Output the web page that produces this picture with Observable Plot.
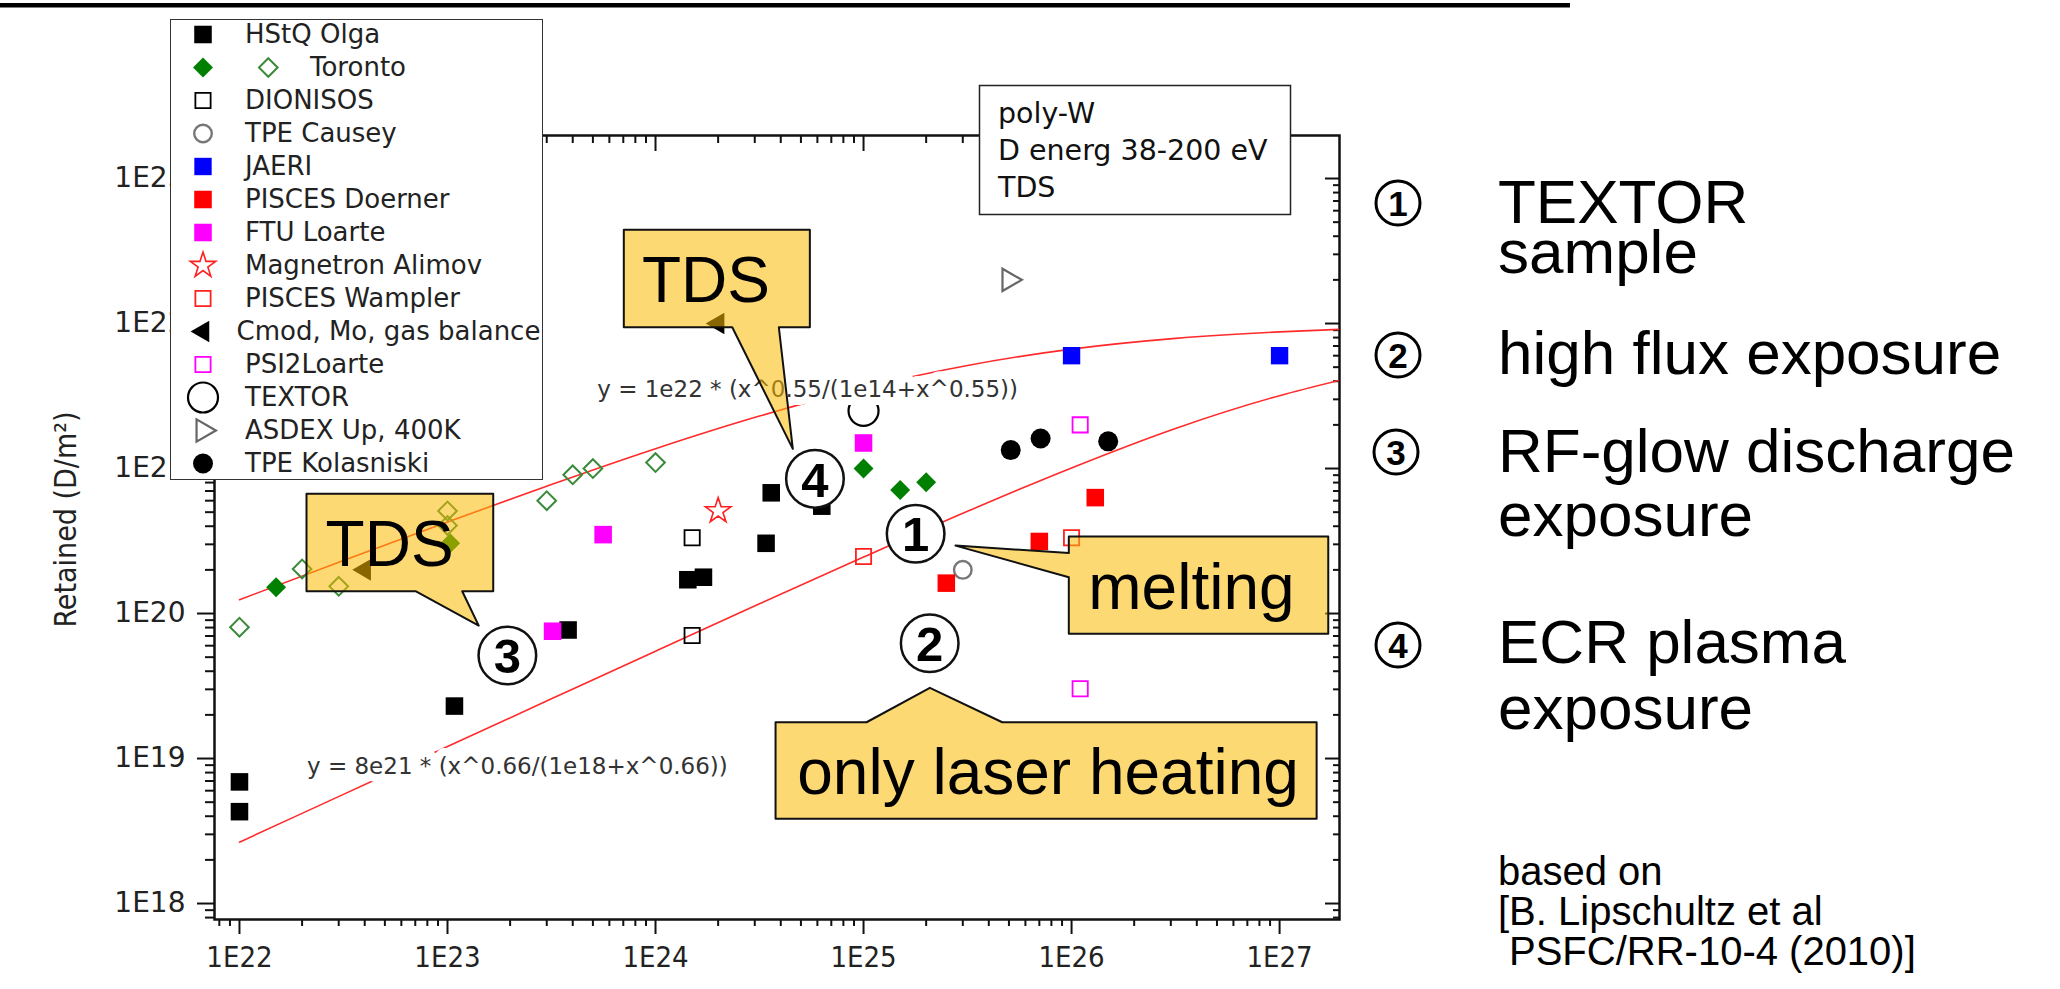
<!DOCTYPE html>
<html><head><meta charset="utf-8"><title>Retained D in poly-W</title>
<script src="https://cdn.jsdelivr.net/npm/d3@7"></script>
<script src="https://cdn.jsdelivr.net/npm/@observablehq/plot@0.6"></script>
<style>
html,body{margin:0;padding:0;background:#fff;overflow:hidden;}
#page{position:relative;width:2060px;height:989px;background:#fff;}
#chart{position:absolute;left:0;top:0;}
#legend{position:absolute;left:170px;top:19px;width:373px;height:461px;box-sizing:border-box;border:1.5px solid #333;background:#fff;}
#notes{position:absolute;left:0;top:0;pointer-events:none;}
</style></head>
<body><div id="page"><div id="chart"></div><div id="legend"></div></div>
<script>
// ---------- data ----------
const hstqOlga = [[1e22,6.9e18],[1e22,4.3e18],[1.08e23,2.3e19],[3.8e23,7.7e19],[1.43e24,1.71e20],[1.7e24,1.78e20],[3.4e24,3.05e20],[3.6e24,6.8e20],[6.3e24,5.5e20]];
const torontoFilled = [[1.5e22,1.52e20],[1.03e23,3.05e20],[1e25,1e21],[1.5e25,7.1e20],[2e25,8.05e20]];
const torontoOpen = [[1e22,8.05e19],[2e22,2.03e20],[3e22,1.54e20],[1e23,5.1e20],[1e23,4.05e20],[3e23,6e20],[4e23,9.05e20],[5e23,1e21],[1e24,1.1e21]];
const dionisos = [[1.5e24,3.33e20],[1.5e24,7.05e19]];
const tpeCausey = [[3e25,2e20]];
const jaeri = [[1e26,6e21],[1e27,6e21]];
const piscesDoerner = [[2.5e25,1.62e20],[7e25,3.14e20],[1.3e26,6.3e20]];
const ftuLoarte = [[1e25,1.5e21],[5.6e23,3.5e20],[3.2e23,7.55e19]];
const magnetronAlimov = [[2e24,5.1e20]];
const piscesWampler = [[1e25,2.47e20],[1e26,3.33e20]];
const cmod = [[4e22,2e20],[2e24,1e22]];
const psi2Loarte = [[1.1e26,2e21],[1.1e26,3.03e19]];
const textor = [[1e25,2.5e21]];
const asdex = [[5e25,2e22]];
const tpeKolasniski = [[5.1e25,1.34e21],[7.1e25,1.61e21],[1.5e26,1.54e21]];

// fit curves, values
const fitX = [1e22,3.16e22,1e23,3.16e23,1e24,3.16e24,1e25,3.16e25,1e26,3.16e26,1e27,1.94e27];
const fitUpperY = [1.245e20,2.32e20,4.28e20,7.76e20,1.37e21,2.30e21,3.60e21,5.14e21,6.66e21,7.90e21,8.76e21,9.11e21];
const fitLowerY = [2.65e18,5.66e18,1.21e19,2.58e19,5.50e19,1.166e20,2.45e20,5.07e20,1.01e21,1.89e21,3.18e21,4.05e21];
const fitLabels = [
  {t:"y = 1e22 * (x^0.55/(1e14+x^0.55))", x:5.245e23, y:3.51e21},
  {t:"y = 8e21 * (x^0.66/(1e18+x^0.66))", x:2.111e22, y:8.73e18}
];

// axis ticks
const xDomain = [7.585e21, 1.941e27];
const yDomain = [7.76e17, 1.98e23];
const xMajor = [1e22,1e23,1e24,1e25,1e26,1e27];
const xTickLabels = ["1E22","1E23","1E24","1E25","1E26","1E27"];
const yMajor = [1e18,1e19,1e20,1e21,1e22,1e23];
const yTickLabels = ["1E18","1E19","1E20","1E21","1E22","1E23"];
const minorSteps = [2,3,4,5,6,7,8,9];
const yTitle = "Retained (D/m²)";

// annotations (data coordinates)
const calloutTdsLeft = [[2.10e22,6.69e20],[1.659e23,6.69e20],[1.659e23,1.425e20],[1.177e23,1.425e20],[1.413e23,8.26e19],[7.02e22,1.425e20],[2.10e22,1.425e20]];
const calloutTdsTop = [[7.04e23,4.43e22],[5.52e24,4.43e22],[5.52e24,9.43e21],[3.915e24,9.43e21],[4.571e24,1.367e21],[2.338e24,9.43e21],[7.04e23,9.43e21]];
const calloutMelting = [[9.70e25,3.40e20],[1.714e27,3.40e20],[1.714e27,7.24e19],[9.70e25,7.24e19],[9.70e25,1.78e20],[2.767e25,2.94e20],[9.70e25,2.61e20]];
const calloutLaser = [[3.776e24,1.779e19],[1.034e25,1.779e19],[2.084e25,3.073e19],[4.644e25,1.779e19],[1.507e27,1.779e19],[1.507e27,3.838e18],[3.776e24,3.838e18]];
const calloutTextsCentered = [{t:"TDS",x:5.27e22,y:2.14e20},{t:"TDS",x:1.749e24,y:1.403e22},{t:"melting",x:3.77e26,y:1.077e20}];
const calloutTextsStart = [{t:"only laser heating",x:4.8e24,y:5.71e18}];
const numberMarks = [{n:"1",x:1.78e25,y:3.55e20},{n:"2",x:2.08e25,y:6.24e19},{n:"3",x:1.94e23,y:5.13e19},{n:"4",x:5.84e24,y:8.49e20}];

const infoLines = ["poly-W","D energ 38-200 eV","TDS"];
const rightNotes = [
  {t:"TEXTOR",x:1498,y:223,s:62},{t:"sample",x:1498,y:273,s:62},
  {t:"high flux exposure",x:1498,y:374,s:62},
  {t:"RF-glow discharge",x:1498,y:472,s:62},{t:"exposure",x:1498,y:536,s:62},
  {t:"ECR plasma",x:1498,y:663,s:62},{t:"exposure",x:1498,y:729,s:62},
  {t:"based on",x:1498,y:885,s:40},{t:"[B. Lipschultz et al",x:1498,y:925,s:40},{t:"PSFC/RR-10-4 (2010)]",x:1509,y:965,s:40}
];
const rightMarkers = [{n:"1",x:1398,y:203},{n:"2",x:1398,y:355},{n:"3",x:1396,y:452},{n:"4",x:1398,y:645}];

// ---------- styles ----------
const dejavu = "'DejaVu Sans', sans-serif";
const arial = "'Liberation Sans', Arial, sans-serif";
const narrow = "'Liberation Sans Narrow', 'Arial Narrow', 'DejaVu Sans Condensed', 'Roboto Condensed', sans-serif";
const green = "#008000";
const series = [
  {label:"HStQ Olga", data:hstqOlga, symbol:"square", r:9.9, fill:"black", stroke:"none", sw:0},
  {label:"Toronto", data:torontoFilled, symbol:"diamond2", r:9, fill:green, stroke:"none", sw:0},
  {label:null, data:torontoOpen, symbol:"diamond2", r:8.4, fill:"none", stroke:"#3a8a3a", sw:2},
  {label:"DIONISOS", data:dionisos, symbol:"square", r:8.6, fill:"none", stroke:"black", sw:1.8},
  {label:"TPE Causey", data:tpeCausey, symbol:"circle", r:8.8, fill:"none", stroke:"#777", sw:2.4},
  {label:"JAERI", data:jaeri, symbol:"square", r:9.8, fill:"#0000ff", stroke:"none", sw:0},
  {label:"PISCES Doerner", data:piscesDoerner, symbol:"square", r:9.9, fill:"#ff0000", stroke:"none", sw:0},
  {label:"FTU Loarte", data:ftuLoarte, symbol:"square", r:9.9, fill:"#ff00ff", stroke:"none", sw:0},
  {label:"Magnetron Alimov", data:magnetronAlimov, symbol:"star", r:8, fill:"none", stroke:"#ff2020", sw:1.6},
  {label:"PISCES Wampler", data:piscesWampler, symbol:"square", r:8.6, fill:"none", stroke:"#ff2020", sw:1.8},
  {label:"Cmod, Mo, gas balance", data:cmod, symbol:"triangle", r:8, fill:"black", stroke:"none", sw:0, rotate:-90},
  {label:"PSI2Loarte", data:psi2Loarte, symbol:"square", r:8.6, fill:"none", stroke:"#ff00ff", sw:1.8},
  {label:"TEXTOR", data:textor, symbol:"circle", r:15, fill:"none", stroke:"black", sw:2.2},
  {label:"ASDEX Up, 400K", data:asdex, symbol:"triangle", r:8.3, fill:"none", stroke:"#666", sw:2.2, rotate:90},
  {label:"TPE Kolasniski", data:tpeKolasniski, symbol:"circle", r:10, fill:"black", stroke:"none", sw:0}
];

const inDomain = (v, d) => v >= d[0] && v <= d[1];
const minorOf = (d, e0, e1) => d3.range(e0, e1 + 1).flatMap(e => minorSteps.map(m => m * 10 ** e)).filter(v => inDomain(v, d));
const xMinor = minorOf(xDomain, 21, 27);
const yMinor = minorOf(yDomain, 17, 23);

const W = 2060, H = 989;
const callFill = "#FBBA00";
const fx = d => d[0], fy = d => d[1];

const chart = Plot.plot({
  width: W, height: H,
  marginLeft: 214, marginRight: W - 1339, marginTop: 135, marginBottom: H - 919,
  x: {type: "log", domain: xDomain, axis: null},
  y: {type: "log", domain: yDomain, axis: null},
  style: {background: "white", color: "#111", fontFamily: dejavu, overflow: "visible"},
  marks: [
    // axes
    Plot.axisX(xMajor, {anchor: "bottom", tickSize: 15, tickPadding: 12, strokeWidth: 2, tickFormat: d => xTickLabels[xMajor.indexOf(d)], fontSize: 29, fontFamily: narrow, fill: "#222", label: null}),
    Plot.axisX(xMinor, {anchor: "bottom", tickSize: 7, strokeWidth: 2, fill: "none", label: null}),
    Plot.axisX(xMajor, {anchor: "top", tickSize: -15, strokeWidth: 2, fill: "none", label: null}),
    Plot.axisX(xMinor, {anchor: "top", tickSize: -7, strokeWidth: 2, fill: "none", label: null}),
    Plot.axisY(yMajor, {anchor: "left", tickSize: 17, tickPadding: 12, strokeWidth: 2, tickFormat: d => yTickLabels[yMajor.indexOf(d)], fontSize: 28, fontFamily: dejavu, fill: "#222", label: null}),
    Plot.axisY(yMinor, {anchor: "left", tickSize: 9, strokeWidth: 2, fill: "none", label: null}),
    Plot.axisY(yMajor, {anchor: "right", tickSize: -15, strokeWidth: 2, fill: "none", label: null}),
    Plot.axisY(yMinor, {anchor: "right", tickSize: -7, strokeWidth: 2, fill: "none", label: null}),
    Plot.frame({stroke: "#111", strokeWidth: 2.5}),
    Plot.text([yTitle], {frameAnchor: "left", rotate: -90, textAnchor: "middle", lineAnchor: "middle", dx: -148, dy: -8, fontSize: 30, fontFamily: narrow, fill: "#222"}),
    // fit lines
    Plot.line(fitX.map((x, i) => [x, fitUpperY[i]]), {x: fx, y: fy, stroke: "#ff2a2a", strokeWidth: 1.6, curve: "monotone-x", clip: true}),
    Plot.line(fitX.map((x, i) => [x, fitLowerY[i]]), {x: fx, y: fy, stroke: "#ff2a2a", strokeWidth: 1.6, curve: "monotone-x", clip: true}),
    // data
    ...series.map(s => Plot.dot(s.data, {x: fx, y: fy, symbol: s.symbol, r: s.r, fill: s.fill, stroke: s.stroke, strokeWidth: s.sw, rotate: s.rotate || 0})),
    // equation labels with white background
    Plot.text(fitLabels, {x: "x", y: "y", text: "t", textAnchor: "start", lineAnchor: "middle", fontSize: 23, fontFamily: dejavu, fill: "#333", stroke: "white", strokeWidth: 16, strokeLinejoin: "round", paintOrder: "stroke"}),
    // callouts
    ...[calloutTdsLeft, calloutTdsTop, calloutMelting, calloutLaser].map(c =>
      Plot.line(c, {x: fx, y: fy, curve: "linear-closed", fill: callFill, fillOpacity: 0.55, stroke: "#111", strokeWidth: 2})),
    Plot.dot(numberMarks, {x: "x", y: "y", r: 28.8, fill: "white", stroke: "#111", strokeWidth: 2.5}),
    Plot.text(numberMarks, {x: "x", y: "y", text: "n", fontSize: 49, fontWeight: "bold", fontFamily: arial, fill: "#000", lineAnchor: "middle", dy: 2}),
    Plot.text(calloutTextsCentered, {x: "x", y: "y", text: "t", textAnchor: "middle", lineAnchor: "bottom", fontSize: 64, fontFamily: arial, fill: "#000"}),
    Plot.text(calloutTextsStart, {x: "x", y: "y", text: "t", textAnchor: "start", lineAnchor: "bottom", fontSize: 64, fontFamily: arial, fill: "#000"})
  ]
});
document.getElementById("chart").appendChild(chart);

// ---------- legend (own small Plot) ----------
const legendRows = series.filter(s => s.label);
const rowY0 = 12.8, rowStep = 33.2;
const legend = Plot.plot({
  width: 370, height: 458, margin: 0,
  x: {type: "identity", axis: null},
  y: {type: "point", padding: 0, domain: legendRows.map(s => s.label), range: [rowY0, rowY0 + rowStep * (legendRows.length - 1)], axis: null},
  style: {background: "white", overflow: "visible"},
  marks: [
    ...legendRows.map(s => Plot.dot([s], {x: 31.5, y: "label", symbol: s.symbol, r: s.r, fill: s.fill, stroke: s.stroke, strokeWidth: s.sw, rotate: s.rotate || 0})),
    Plot.dot([series[2]], {x: 96.8, y: () => "Toronto", symbol: "diamond2", r: 8.4, fill: "none", stroke: "#3a8a3a", strokeWidth: 2}),
    Plot.text(legendRows.filter(s => s.label !== "Toronto" && s.label !== "Cmod, Mo, gas balance"), {x: 73.5, y: "label", text: "label", textAnchor: "start", lineAnchor: "middle", fontSize: 26, fontFamily: dejavu, fill: "#222"}),
    Plot.text(legendRows.filter(s => s.label === "Toronto"), {x: 138.5, y: "label", text: "label", textAnchor: "start", lineAnchor: "middle", fontSize: 26, fontFamily: dejavu, fill: "#222"}),
    Plot.text(legendRows.filter(s => s.label === "Cmod, Mo, gas balance"), {x: 65, y: "label", text: "label", textAnchor: "start", lineAnchor: "middle", fontSize: 26, fontFamily: dejavu, fill: "#222"})
  ]
});
document.getElementById("legend").appendChild(legend);

// ---------- slide decorations: rule, info box, side notes ----------
const notes = d3.select("#page").append("svg").attr("id", "notes").attr("width", W).attr("height", H);
notes.append("rect").attr("x", 0).attr("y", 3).attr("width", 1570).attr("height", 4.5).attr("fill", "#000");
const info = notes.append("g");
info.append("rect").attr("x", 979.5).attr("y", 85.5).attr("width", 311).attr("height", 129).attr("fill", "white").attr("stroke", "#222").attr("stroke-width", 1.5);
info.append("text").attr("x", 998).attr("y", 123)
  .attr("font-family", dejavu).attr("font-size", 28.5).attr("fill", "#111")
  .selectAll("tspan").data(infoLines).join("tspan")
  .attr("x", 998).attr("dy", (d, i) => i ? 37 : 0).text(d => d);
notes.selectAll("text.note").data(rightNotes).join("text").attr("class", "note")
  .attr("x", d => d.x).attr("y", d => d.y).attr("font-family", arial).attr("font-size", d => d.s).attr("fill", "#000").text(d => d.t);
const mk = notes.selectAll("g.mk").data(rightMarkers).join("g").attr("class", "mk");
mk.append("circle").attr("cx", d => d.x).attr("cy", d => d.y).attr("r", 22).attr("fill", "white").attr("stroke", "#000").attr("stroke-width", 3);
mk.append("text").attr("x", d => d.x).attr("y", d => d.y + 12.5).attr("text-anchor", "middle").attr("font-family", arial).attr("font-weight", "bold").attr("font-size", 35).attr("fill", "#000").text(d => d.n);
</script>
</body></html>
